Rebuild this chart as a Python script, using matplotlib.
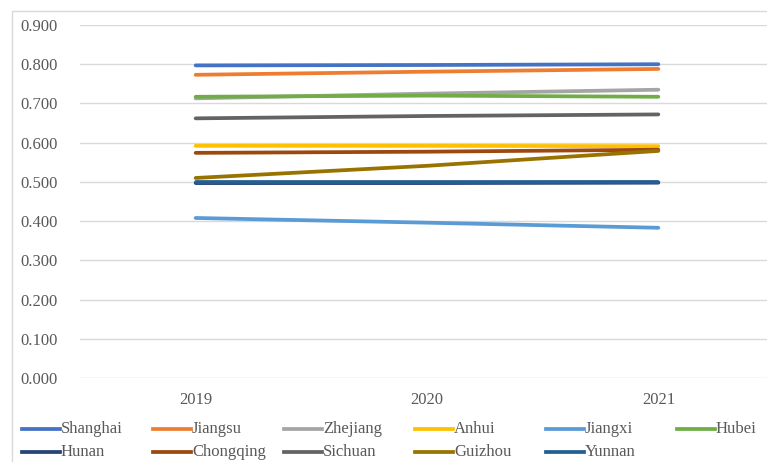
import matplotlib.pyplot as plt
from matplotlib.lines import Line2D
from matplotlib.patches import Rectangle

plt.rcParams['font.family'] = ['Liberation Serif', 'DejaVu Serif']

years = ['2019', '2020', '2021']
provinces = ['Shanghai', 'Jiangsu', 'Zhejiang', 'Anhui', 'Jiangxi', 'Hubei',
             'Hunan', 'Chongqing', 'Sichuan', 'Guizhou', 'Yunnan']

shanghai = [0.797, 0.798, 0.800]
jiangsu = [0.773, 0.781, 0.788]
zhejiang = [0.713, 0.725, 0.735]
anhui = [0.592, 0.592, 0.591]
jiangxi = [0.408, 0.396, 0.383]
hubei = [0.717, 0.720, 0.717]
hunan = [0.497, 0.497, 0.498]
chongqing = [0.574, 0.577, 0.582]
sichuan = [0.662, 0.668, 0.672]
guizhou = [0.510, 0.541, 0.579]
yunnan = [0.499, 0.499, 0.499]

series = [shanghai, jiangsu, zhejiang, anhui, jiangxi, hubei,
          hunan, chongqing, sichuan, guizhou, yunnan]
colors = ['#4472C4', '#ED7D31', '#A5A5A5', '#FFC000', '#5B9BD5', '#70AD47',
          '#264478', '#9E480E', '#636363', '#997300', '#255E91']

txt = '#595959'

fig = plt.figure(figsize=(7.67, 4.62), dpi=100)
# outer chart border (cropped on right/bottom)
fig.patches.append(Rectangle((12 / 767, -0.1), 1.2, 1 - 11 / 462 + 0.1,
                             transform=fig.transFigure, fill=False,
                             edgecolor='#D9D9D9', lw=1))

ax = fig.add_axes([80 / 767, 1 - 378 / 462, 694 / 767, 353 / 462])
x = range(len(years))
for vals, c in zip(series, colors):
    ax.plot(x, vals, color=c, lw=2.7, solid_capstyle='round')

ax.set_xlim(-0.5, 2.5)
ax.set_ylim(0, 0.9)
ax.set_yticks([i / 10 for i in range(10)])
ax.set_yticklabels(['%.3f' % (i / 10) for i in range(10)])
ax.set_xticks(list(x))
ax.set_xticklabels(years)
ax.tick_params(length=0, colors=txt, labelsize=12)
ax.tick_params(axis='y', pad=16)
ax.tick_params(axis='x', pad=10)
ax.grid(axis='y', color='#D9D9D9', lw=1)
ax.set_axisbelow(True)
for s in ax.spines.values():
    s.set_visible(False)

# legend, Excel-style fixed column spacing
for i, (name, c) in enumerate(zip(provinces, colors)):
    col, row = i % 6, i // 6
    x0 = (22 + col * 131) / 767
    y0 = 1 - (429 + row * 23) / 462
    fig.add_artist(Line2D([x0, x0 + 38 / 767], [y0, y0], color=c, lw=2.7,
                          transform=fig.transFigure))
    fig.text(x0 + 39 / 767, y0, name, color=txt, fontsize=12, va='center', ha='left')

fig.savefig('out.png', dpi=100)
